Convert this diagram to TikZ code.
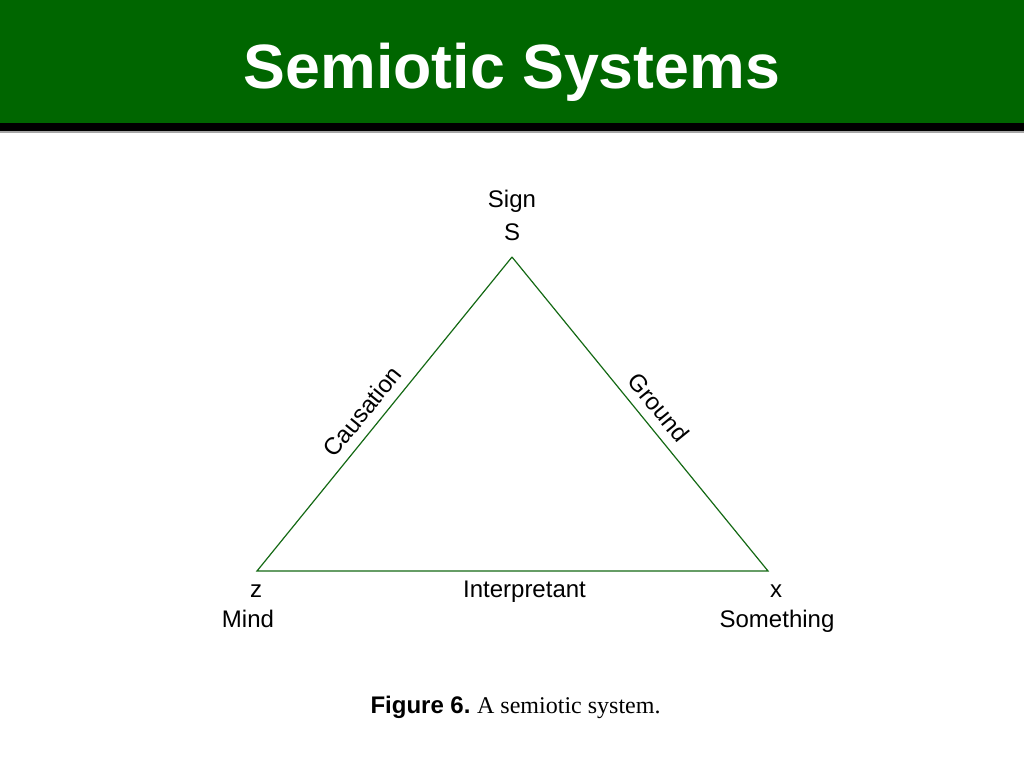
\documentclass[tikz,border=0pt]{standalone}
\usepackage{fontspec}
\setmainfont{Liberation Sans}
\newfontfamily\capserif{Liberation Serif}
\usetikzlibrary{calc}
\definecolor{slidegreen}{RGB}{0,102,0}
\definecolor{linegreen}{RGB}{20,105,20}

\begin{document}
\begin{tikzpicture}[x=0.75pt, y=-0.75pt,
  lbl/.style={anchor=base, inner sep=0pt, font=\fontsize{18}{22}\selectfont},
  edgelbl/.style={sloped, above=7pt, inner sep=0pt, text=black, font=\fontsize{18}{22}\selectfont}]
  \useasboundingbox (0,0) rectangle (1024,768);

  %title bar
  \fill[slidegreen] (0,0) rectangle (1024,123);
  \fill[black] (0,123) rectangle (1024,131);
  \fill[black!35] (0,131) rectangle (1024,132.5);
  \node [anchor=base, inner sep=0pt, text=white, font=\fontsize{47}{56}\selectfont\bfseries] (title) at (512,88) {Semiotic Systems};

  %corners of the triangle
  \coordinate (S) at (512,257);
  \coordinate (Z) at (257,571);
  \coordinate (X) at (768,571);
  \draw[linegreen, line width=0.9pt] (S) -- node [edgelbl, pos=0.517] (ground) {Ground} (X)
    -- (Z) -- node [edgelbl, pos=0.47] (causation) {Causation} (S);

  %labels at the corners
  \node [lbl] (sign) at (512,207) {Sign};
  \node [lbl] (signS) at (512,240) {S};
  \node [lbl] (z) at (256,597) {z};
  \node [lbl] (mind) at (248,627) {Mind};
  \node [lbl] (x) at (776,597) {x};
  \node [lbl] (something) at (777,627) {Something};
  \node [lbl] (interp) at (524.5,597) {Interpretant};

  \node [anchor=base, inner sep=0pt, font=\fontsize{18}{22}\selectfont] (caption) at (515.5,713) {\textbf{Figure 6.}\ {\capserif A semiotic system.}};
\end{tikzpicture}
\end{document}
